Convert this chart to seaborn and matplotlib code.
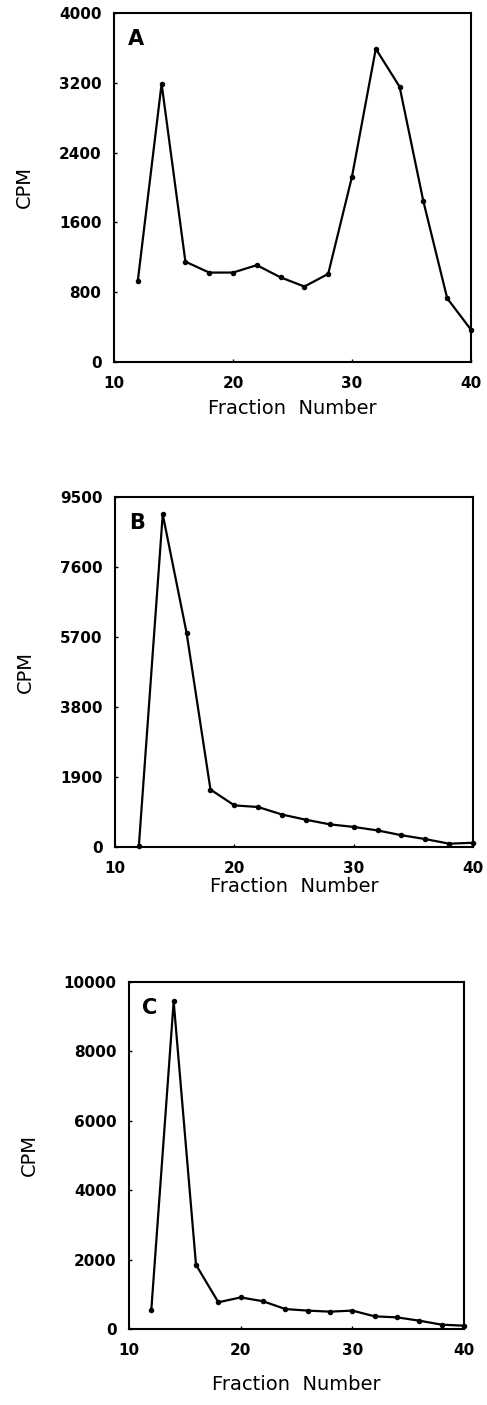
import matplotlib
matplotlib.use("Agg")
import matplotlib.pyplot as plt
import seaborn as sns
import pandas as pd

fractions = [12, 14, 16, 18, 20, 22, 24, 26, 28, 30, 32, 34, 36, 38, 40]
cpm_a = [930, 3190, 1150, 1025, 1025, 1110, 970, 865, 1010, 2125, 3590, 3155, 1840, 730, 370]
cpm_b = [30, 9030, 5810, 1560, 1130, 1085, 880, 740, 615, 545, 450, 320, 215, 90, 115]
cpm_c = [560, 9440, 1850, 770, 910, 800, 575, 530, 500, 530, 365, 335, 240, 125, 95]

panel_labels = ["A", "B", "C"]
yticks_a = [0, 800, 1600, 2400, 3200, 4000]
yticks_b = [0, 1900, 3800, 5700, 7600, 9500]
yticks_c = [0, 2000, 4000, 6000, 8000, 10000]
xticks = [10, 20, 30, 40]

sns.set_style("ticks")
plt.rcParams["font.family"] = ["DejaVu Sans"]
plt.rcParams["text.color"] = "black"
plt.rcParams["axes.labelcolor"] = "black"
plt.rcParams["xtick.color"] = "black"
plt.rcParams["ytick.color"] = "black"

W, H = 487, 1405
fig = plt.figure(figsize=(W / 100, H / 100), dpi=100)

boxes = [
    (114, 471, 13, 362),
    (115, 473, 497, 847),
    (129, 464, 982, 1329),
]
series = [cpm_a, cpm_b, cpm_c]
yticks_all = [yticks_a, yticks_b, yticks_c]
xlabel_y = [409, 886, 1385]

for (l, r, t, b), vals, yt, lab, xly in zip(boxes, series, yticks_all, panel_labels, xlabel_y):
    ax = fig.add_axes([l / W, 1 - b / H, (r - l) / W, (b - t) / H])
    df = pd.DataFrame({"Fraction": fractions, "CPM": vals})
    sns.lineplot(data=df, x="Fraction", y="CPM", ax=ax, color="black",
                 linewidth=1.6, marker="o", markersize=3.2,
                 markeredgecolor="black", markerfacecolor="black", clip_on=False)
    ax.set_xlim(10, 40)
    ax.set_ylim(yt[0], yt[-1])
    ax.set_xticks(xticks)
    ax.set_yticks(yt)
    ax.set_xticklabels([str(v) for v in xticks], fontsize=11, fontweight="bold")
    ax.set_yticklabels([str(v) for v in yt], fontsize=11, fontweight="bold")
    ax.tick_params(direction="in", length=2, width=1, pad=10)
    ax.tick_params(axis="y", pad=9)
    for s in ax.spines.values():
        s.set_linewidth(1.5)
        s.set_color("black")
    ax.set_xlabel("")
    ax.set_ylabel("CPM", fontsize=14, labelpad=18, color="black")
    ax.text(0.04, 0.955, lab, transform=ax.transAxes, fontsize=15,
            fontweight="bold", va="top", ha="left", color="black")
    fig.text((l + r) / 2 / W, 1 - xly / H, "Fraction  Number", fontsize=14,
             ha="center", va="center", color="black")

fig.savefig("out.png", dpi=100)
